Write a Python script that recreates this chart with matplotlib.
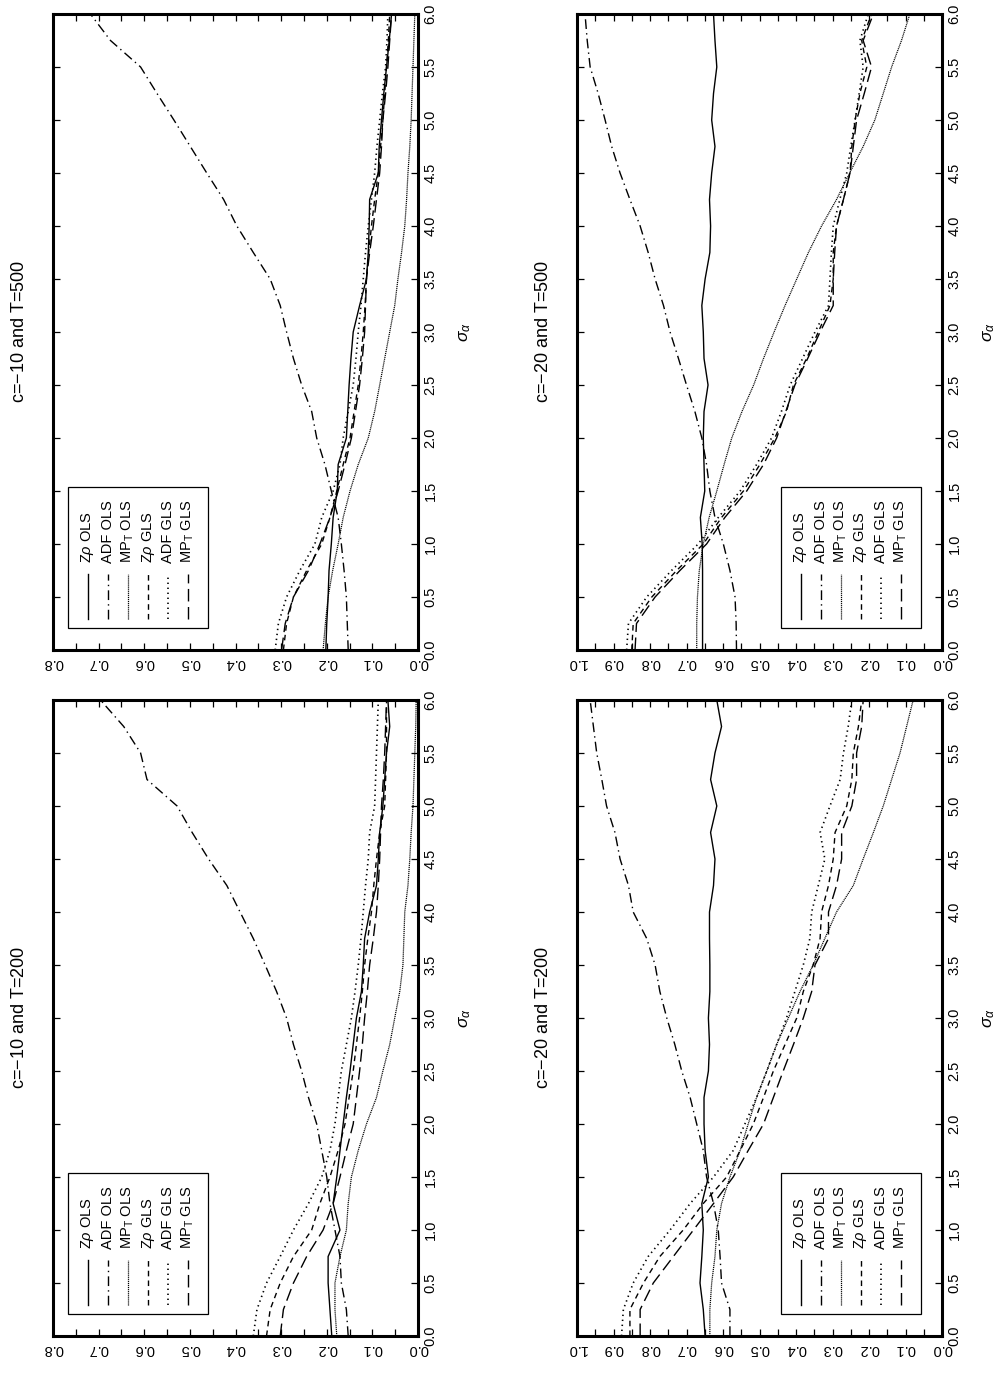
import matplotlib
matplotlib.use('Agg')
import matplotlib.pyplot as plt
from matplotlib.patches import Rectangle
from matplotlib.lines import Line2D
from matplotlib.ticker import MultipleLocator

plt.rcParams['font.family'] = ['Liberation Sans', 'DejaVu Sans']
plt.rcParams['lines.scale_dashes'] = False
plt.rcParams['mathtext.fontset'] = 'custom'
plt.rcParams['mathtext.rm'] = 'Liberation Sans'
plt.rcParams['mathtext.it'] = 'Liberation Sans:italic'

sigma_a = [0.0, 0.25, 0.5, 0.75, 1.0, 1.25, 1.5, 1.75, 2.0, 2.25, 2.5, 2.75, 3.0,
           3.25, 3.5, 3.75, 4.0, 4.25, 4.5, 4.75, 5.0, 5.25, 5.5, 5.75, 6.0]

labels = ['Z$\\rho$ OLS', 'ADF OLS', 'MP$_\\mathrm{T}$ OLS',
          'Z$\\rho$ GLS', 'ADF GLS', 'MP$_\\mathrm{T}$ GLS']

# c=-10, T=500
zr_ols_10_500 = [.202, .200, .197, .195, .190, .186, .177, .175, .157, .154, .151, .147, .142,
                 .128, .113, .109, .107, .106, .087, .085, .080, .075, .069, .063, .058]
adf_ols_10_500 = [.153, .155, .157, .162, .168, .175, .190, .204, .222, .233, .255, .273, .288,
                  .302, .324, .361, .397, .426, .463, .499, .535, .572, .608, .674, .718]
mp_ols_10_500 = [.208, .203, .197, .187, .175, .164, .149, .131, .109, .095, .084, .073, .062,
                 .051, .044, .036, .029, .025, .022, .018, .015, .013, .011, .009, .007]
zr_gls_10_500 = [.295, .288, .273, .244, .211, .193, .178, .164, .149, .140, .131, .125, .120,
                 .116, .113, .108, .102, .095, .087, .082, .077, .073, .069, .065, .062]
adf_gls_10_500 = [.313, .306, .288, .259, .226, .211, .186, .171, .164, .153, .142, .136, .131,
                  .125, .120, .115, .109, .102, .095, .090, .084, .078, .071, .068, .066]
mp_gls_10_500 = [.299, .291, .273, .240, .215, .193, .175, .160, .146, .137, .128, .122, .117,
                 .115, .113, .106, .098, .091, .084, .080, .077, .071, .066, .062, .058]

# c=-10, T=200
zr_ols_10_200 = [.189, .193, .197, .197, .171, .186, .178, .171, .164, .157, .149, .142, .135,
                 .124, .120, .117, .106, .091, .087, .084, .077, .073, .069, .062, .066]
adf_ols_10_200 = [.153, .157, .168, .171, .182, .193, .200, .211, .222, .240, .255, .273, .288,
                  .310, .335, .361, .390, .419, .459, .495, .528, .594, .608, .645, .696]
mp_ols_10_200 = [.178, .182, .182, .171, .157, .153, .146, .131, .113, .091, .077, .062, .051,
                 .040, .033, .031, .029, .022, .018, .015, .011, .009, .007, .005, .004]
zr_gls_10_200 = [.332, .324, .302, .273, .233, .215, .193, .175, .160, .151, .142, .135, .128,
                 .122, .117, .110, .102, .097, .091, .084, .073, .071, .069, .069, .069]
adf_gls_10_200 = [.361, .353, .332, .302, .273, .240, .211, .193, .182, .175, .168, .157, .146,
                  .138, .131, .125, .120, .115, .109, .106, .095, .093, .091, .089, .087]
mp_gls_10_200 = [.302, .295, .273, .244, .208, .186, .171, .157, .142, .135, .128, .122, .117,
                 .111, .106, .098, .091, .087, .084, .082, .080, .076, .073, .071, .069]

# c=-20, T=500
zr_ols_20_500 = [.656, .656, .656, .656, .657, .662, .650, .652, .654, .652, .641, .652, .654,
                 .658, .649, .636, .634, .637, .631, .622, .631, .626, .617, .622, .626]
adf_ols_20_500 = [.563, .564, .567, .581, .599, .622, .636, .645, .658, .677, .700, .722, .745,
                  .763, .786, .805, .827, .855, .882, .905, .923, .942, .964, .972, .978]
mp_ols_20_500 = [.672, .672, .670, .665, .654, .638, .617, .597, .576, .548, .516, .489, .460,
                 .430, .398, .366, .330, .289, .253, .216, .184, .161, .138, .111, .088]
zr_gls_20_500 = [.850, .846, .795, .727, .654, .604, .544, .499, .458, .426, .407, .371, .339,
                 .307, .298, .298, .289, .270, .252, .247, .238, .225, .206, .220, .193]
adf_gls_20_500 = [.864, .859, .809, .741, .668, .613, .553, .508, .467, .440, .416, .382, .348,
                  .311, .307, .303, .298, .280, .261, .250, .238, .227, .216, .225, .202]
mp_gls_20_500 = [.841, .837, .786, .718, .645, .595, .535, .489, .453, .428, .403, .368, .334,
                 .298, .298, .294, .289, .270, .252, .243, .234, .213, .193, .216, .188]

# c=-20, T=200
zr_ols_20_200 = [.649, .654, .663, .658, .654, .658, .640, .649, .652, .652, .640, .637, .640,
                 .636, .636, .637, .637, .626, .622, .634, .617, .634, .622, .604, .617]
adf_ols_20_200 = [.581, .581, .604, .608, .613, .626, .645, .654, .672, .690, .713, .732, .754,
                  .773, .786, .809, .846, .859, .882, .896, .919, .932, .946, .955, .964]
mp_ols_20_200 = [.636, .636, .631, .622, .617, .604, .581, .553, .531, .508, .480, .453, .421,
                 .389, .353, .321, .289, .243, .216, .188, .161, .138, .115, .097, .079]
zr_gls_20_200 = [.855, .855, .818, .773, .709, .654, .590, .553, .517, .489, .462, .430, .398,
                 .380, .353, .334, .330, .311, .298, .293, .261, .247, .243, .229, .220]
adf_gls_20_200 = [.878, .873, .846, .805, .745, .690, .626, .572, .540, .508, .480, .453, .426,
                  .403, .380, .362, .357, .339, .321, .334, .307, .279, .270, .257, .247]
mp_gls_20_200 = [.827, .827, .791, .736, .681, .626, .572, .531, .489, .462, .435, .407, .380,
                 .357, .348, .311, .311, .289, .275, .275, .247, .234, .234, .220, .216]

styles = ['-', (0, (7, 3, 1, 3)), (0, (0.8, 0.6)), (0, (4, 3)), (0, (1, 2.6)), (0, (9, 4))]
widths = [1.0, 1.0, 0.9, 1.0, 1.2, 1.0]

W, H = 997, 1373
fig = plt.figure(figsize=(W / 100, H / 100), dpi=100)

panels = [
    ('c=$-$10 and T=500', 53, 650, 0.8,
     [zr_ols_10_500, adf_ols_10_500, mp_ols_10_500, zr_gls_10_500, adf_gls_10_500, mp_gls_10_500], 'left'),
    ('c=$-$10 and T=200', 53, 1336, 0.8,
     [zr_ols_10_200, adf_ols_10_200, mp_ols_10_200, zr_gls_10_200, adf_gls_10_200, mp_gls_10_200], 'left'),
    ('c=$-$20 and T=500', 577, 650, 1.0,
     [zr_ols_20_500, adf_ols_20_500, mp_ols_20_500, zr_gls_20_500, adf_gls_20_500, mp_gls_20_500], 'right'),
    ('c=$-$20 and T=200', 577, 1336, 1.0,
     [zr_ols_20_200, adf_ols_20_200, mp_ols_20_200, zr_gls_20_200, adf_gls_20_200, mp_gls_20_200], 'right'),
]

pw, ph = 365, 636
for title, px, pbot, vmax, series, legpos in panels:
    ax = fig.add_axes([px / W, 1 - pbot / H, pw / W, ph / H])
    for vals, ls, lw in zip(series, styles, widths):
        ax.plot(vals, sigma_a, color='black', lw=lw, linestyle=ls)
    ax.set_xlim(vmax, 0)
    ax.set_ylim(0, 6)

    ax.xaxis.set_major_locator(MultipleLocator(0.1))
    ax.xaxis.set_minor_locator(MultipleLocator(0.05))
    ax.yaxis.set_major_locator(MultipleLocator(0.5))
    ax.xaxis.set_major_formatter(plt.FormatStrFormatter('%.1f'))
    ax.yaxis.set_major_formatter(plt.FormatStrFormatter('%.1f'))
    ax.tick_params(axis='both', which='both', direction='in', length=5, width=0.9,
                   top=True, bottom=True, left=True, right=True, labelsize=10.5)
    ax.tick_params(axis='y', labelleft=False, labelright=True, labelrotation=90, pad=4)
    ax.tick_params(axis='x', labelrotation=180, pad=4)
    for sp in ax.spines.values():
        sp.set_linewidth(2.2)

    ylabs = ax.get_yticklabels()
    for lbl in ylabs:
        lbl.set_va('center')
    ylabs[0].set_va('bottom')
    ylabs[-1].set_va('top')

    ax.text(-33 / pw, 0.5, title, rotation=90, transform=ax.transAxes,
            ha='center', va='center', fontsize=13)
    ax.text(1 + 47 / pw, 0.5, '$\\sigma_\\alpha$', rotation=90, transform=ax.transAxes,
            ha='center', va='center', fontsize=12.5)

    # legend drawn sideways like the rest of the page
    bx0 = 0.041 if legpos == 'left' else 0.558
    bw, by0, bh = 0.384, 0.035, 0.222
    ax.add_patch(Rectangle((bx0, by0), bw, bh, transform=ax.transAxes,
                           facecolor='white', edgecolor='black', lw=0.9, zorder=5))
    for i, (lab, ls, lw) in enumerate(zip(labels, styles, widths)):
        lx = bx0 + bw * (i + 1) / 7
        ax.add_line(Line2D([lx, lx], [by0 + 0.06 * bh, by0 + 0.38 * bh], transform=ax.transAxes,
                           color='black', lw=lw, linestyle=ls, zorder=6))
        ax.text(lx, by0 + 0.46 * bh, lab, rotation=90, transform=ax.transAxes,
                ha='center', va='bottom', fontsize=10.5, zorder=6)

fig.savefig('out.png', dpi=100)
